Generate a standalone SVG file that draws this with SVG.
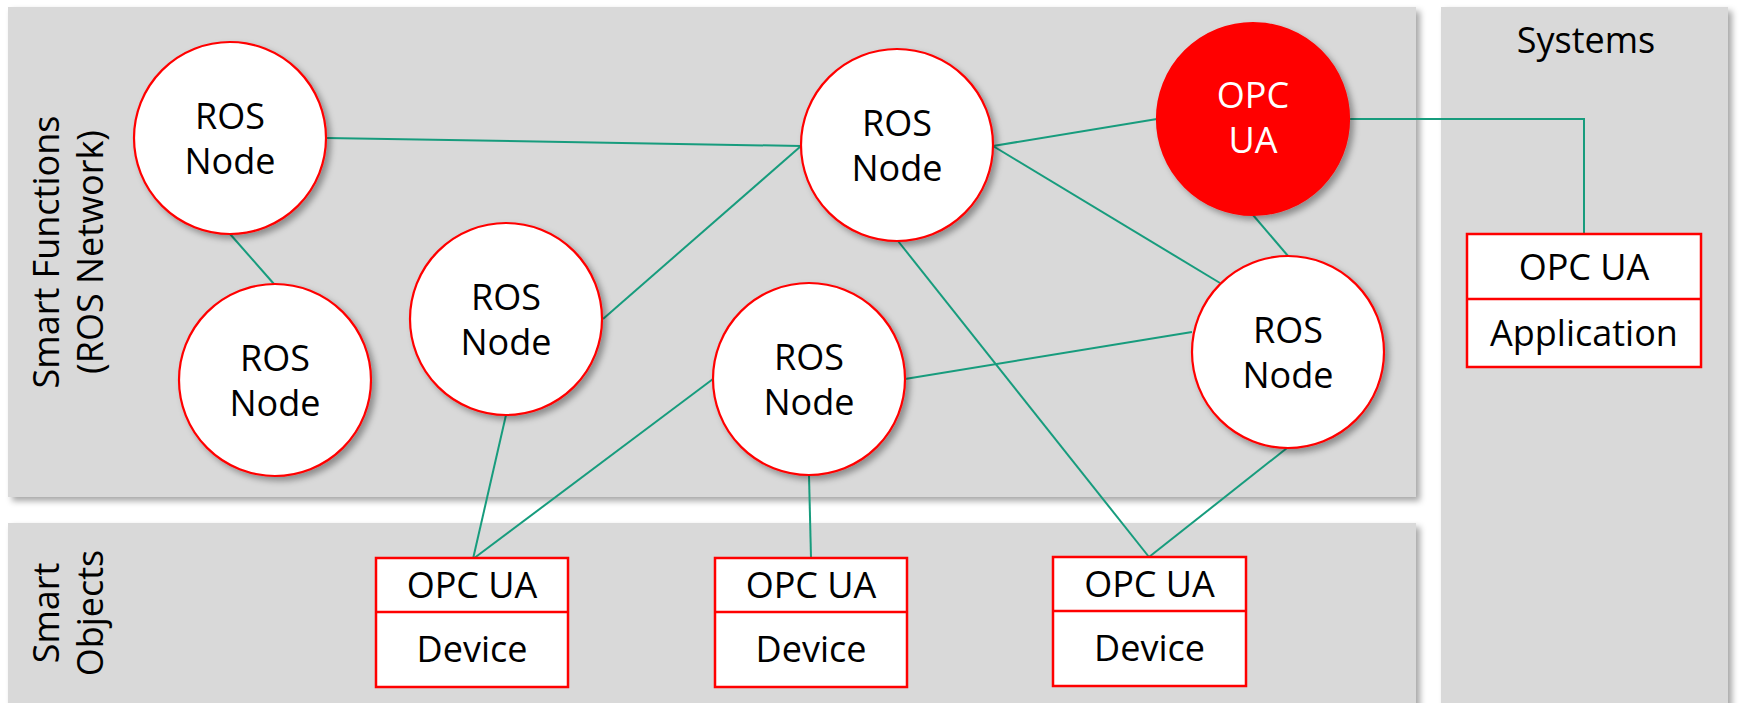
<svg xmlns="http://www.w3.org/2000/svg" width="1739" height="703" viewBox="0 0 1739 703">
<style>
.panel{fill:#d9d9d9;filter:url(#pshadow)}
.node{fill:#ffffff;stroke:#ff0000;stroke-width:2.2;filter:url(#cshadow)}
.hub{fill:#ff0000;stroke:#ff0000;stroke-width:2.2;filter:url(#cshadow)}
.box{fill:#ffffff;stroke:#ff0000;stroke-width:2.5}
.conn{stroke:#179c7d;stroke-width:2;fill:none}
text{font-family:"Open Sans","Noto Sans","Liberation Sans",sans-serif;font-size:36px;fill:#000000;text-anchor:middle}
.white{fill:#ffffff}
</style>
<defs>
<filter id="pshadow" x="-5%" y="-5%" width="110%" height="115%">
<feDropShadow dx="4" dy="4" stdDeviation="3" flood-color="#000000" flood-opacity="0.35"/>
</filter>
<filter id="cshadow" x="-20%" y="-20%" width="140%" height="140%">
<feDropShadow dx="4" dy="4" stdDeviation="3" flood-color="#000000" flood-opacity="0.35"/>
</filter>
</defs>
<rect width="1739" height="703" fill="#ffffff"/>
<g id="panel-smart-functions">
<rect class="panel" x="8" y="7" width="1408" height="490"/>
<text transform="translate(59,252) rotate(-90)">Smart Functions</text>
<text transform="translate(103,252) rotate(-90)">(ROS Network)</text>
</g>
<g id="panel-smart-objects">
<rect class="panel" x="8" y="523" width="1408" height="185"/>
<text transform="translate(59,613) rotate(-90)">Smart</text>
<text transform="translate(103,613) rotate(-90)">Objects</text>
</g>
<g id="panel-systems">
<rect class="panel" x="1441" y="7" width="287" height="700"/>
<text x="1586" y="53">Systems</text>
</g>
<g id="connectors">
<line class="conn" x1="326" y1="138" x2="801" y2="146"/>
<line class="conn" x1="230" y1="234" x2="274" y2="284"/>
<line class="conn" x1="603" y1="319" x2="801" y2="146"/>
<line class="conn" x1="506" y1="415" x2="473" y2="559"/>
<line class="conn" x1="713" y1="379" x2="473" y2="559"/>
<line class="conn" x1="993" y1="146" x2="1157" y2="119"/>
<line class="conn" x1="993" y1="146" x2="1220" y2="283"/>
<line class="conn" x1="898" y1="241" x2="1149" y2="557"/>
<line class="conn" x1="1253" y1="215" x2="1288" y2="256"/>
<polyline class="conn" points="1350,119 1584,119 1584,234"/>
<line class="conn" x1="905" y1="379" x2="1192" y2="332"/>
<line class="conn" x1="809" y1="475" x2="811" y2="558"/>
<line class="conn" x1="1287" y1="448" x2="1149" y2="557"/>
</g>
<g id="ros-node-1">
<circle class="node" cx="230" cy="138" r="96"/>
<text x="230" y="129">ROS</text>
<text x="230" y="174">Node</text>
</g>
<g id="ros-node-2">
<circle class="node" cx="275" cy="380" r="96"/>
<text x="275" y="371">ROS</text>
<text x="275" y="416">Node</text>
</g>
<g id="ros-node-3">
<circle class="node" cx="506" cy="319" r="96"/>
<text x="506" y="310">ROS</text>
<text x="506" y="355">Node</text>
</g>
<g id="ros-node-4">
<circle class="node" cx="897" cy="145" r="96"/>
<text x="897" y="136">ROS</text>
<text x="897" y="181">Node</text>
</g>
<g id="opc-ua-hub">
<circle class="hub" cx="1253" cy="119" r="96"/>
<text class="white" x="1253" y="108">OPC</text>
<text class="white" x="1253" y="153">UA</text>
</g>
<g id="ros-node-6">
<circle class="node" cx="1288" cy="352" r="96"/>
<text x="1288" y="343">ROS</text>
<text x="1288" y="388">Node</text>
</g>
<g id="ros-node-7">
<circle class="node" cx="809" cy="379" r="96"/>
<text x="809" y="370">ROS</text>
<text x="809" y="415">Node</text>
</g>
<g id="device-1">
<rect class="box" x="376" y="558" width="192" height="129"/>
<line class="box" x1="376" y1="612" x2="568" y2="612"/>
<text x="472" y="598">OPC UA</text>
<text x="472" y="662">Device</text>
</g>
<g id="device-2">
<rect class="box" x="715" y="558" width="192" height="129"/>
<line class="box" x1="715" y1="612" x2="907" y2="612"/>
<text x="811" y="598">OPC UA</text>
<text x="811" y="662">Device</text>
</g>
<g id="device-3">
<rect class="box" x="1053" y="557" width="193" height="129"/>
<line class="box" x1="1053" y1="611" x2="1246" y2="611"/>
<text x="1149.500" y="597">OPC UA</text>
<text x="1149.500" y="661">Device</text>
</g>
<g id="application">
<rect class="box" x="1467" y="234" width="234" height="133"/>
<line class="box" x1="1467" y1="299" x2="1701" y2="299"/>
<text x="1584" y="280">OPC UA</text>
<text x="1584" y="346">Application</text>
</g>
</svg>
